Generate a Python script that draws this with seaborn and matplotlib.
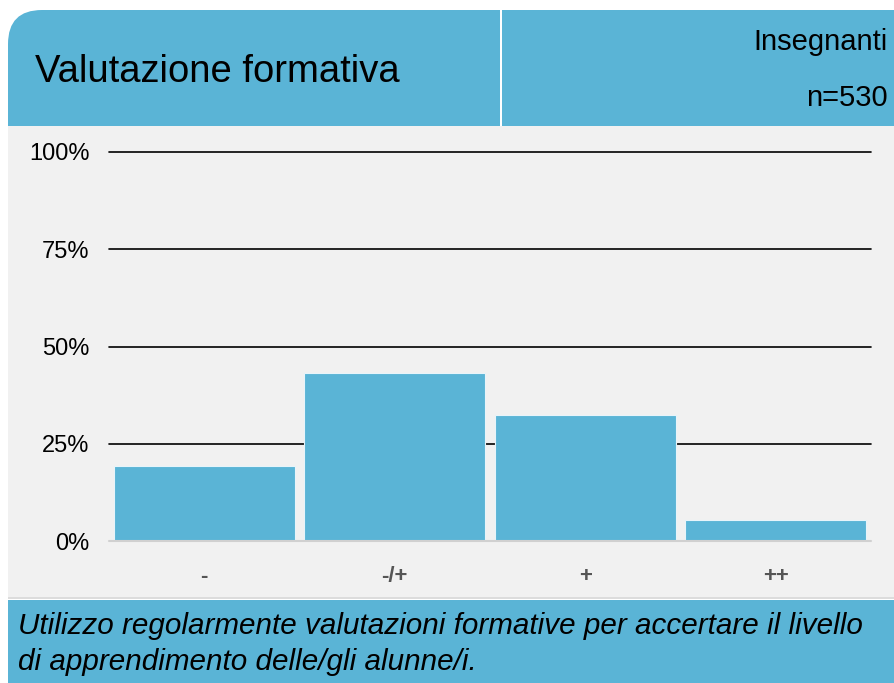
import matplotlib
matplotlib.use('Agg')
import matplotlib.pyplot as plt
import seaborn as sns
import pandas as pd
from matplotlib.patches import Rectangle, FancyBboxPatch
from matplotlib.transforms import IdentityTransform

# data
categories = ['-', '-/+', '+', '++']
percentages = [19.3, 43.2, 32.4, 5.4]
y_ticks = [0, 25, 50, 75, 100]
y_tick_labels = ['0%', '25%', '50%', '75%', '100%']
title = "Valutazione formativa"
group_label = "Insegnanti"
n_label = "n=530"
question = ("Utilizzo regolarmente valutazioni formative per accertare il livello\n"
            "di apprendimento delle/gli alunne/i.")

df = pd.DataFrame({'cat': categories, 'pct': percentages})

blue = '#5ab4d6'
W, H = 894, 683

sns.set_style("white")
plt.rcParams['font.family'] = ['Liberation Sans', 'DejaVu Sans']
plt.rcParams['text.color'] = 'black'
plt.rcParams['ytick.color'] = 'black'

fig = plt.figure(figsize=(W / 100, H / 100), dpi=100)
px = IdentityTransform()

def r(x0, y0, x1, y1, color, z=0):
    # rectangle in image pixel coords (top-left origin)
    fig.patches.append(Rectangle((x0, H - y1), x1 - x0, y1 - y0, transform=px,
                                 facecolor=color, edgecolor='none', zorder=z))

# gray panel
r(8, 126, W, 599, '#f1f1f1')
r(8, 597, W, 599, '#dcdcdc')
# header with rounded top-left corner
fig.patches.append(FancyBboxPatch((8, H - 126), W - 8, 116, transform=px,
                                  boxstyle='round,pad=0,rounding_size=34',
                                  facecolor=blue, edgecolor='none', zorder=0))
r(60, 10, W, 126, blue)
r(8, 60, W, 126, blue)
r(500, 10, 501.5, 126, 'white', 0)
# footer
r(8, 600, W, H, blue)

fig.text(35 / W, 1 - 72 / H, title, fontsize=27.5, va='center', ha='left')
fig.text(888 / W, 1 - 42 / H, group_label, fontsize=21, va='center', ha='right')
fig.text(888 / W, 1 - 98 / H, n_label, fontsize=21, va='center', ha='right')
fig.text(18 / W, 1 - 644 / H, question, fontsize=21.3, style='italic',
         va='center', ha='left', linespacing=1.4)

# bar chart
ax = fig.add_axes([109 / W, 1 - 541 / H, 762 / W, 389 / H], zorder=5)
ax.patch.set_alpha(0)
sns.barplot(data=df, x='cat', y='pct', color=blue, width=0.95, saturation=1,
            edgecolor='#e8f4fa', linewidth=0.8, ax=ax, zorder=3)
ax.set_xlim(-0.5, 3.5)
ax.set_ylim(0, 100)
for yv in y_ticks[1:]:
    ax.axhline(yv, color='black', lw=1.2, zorder=1, clip_on=False)
ax.axhline(0, color='#d0d0d0', lw=1.5, zorder=4, clip_on=False)
sns.despine(ax=ax, left=True, bottom=True)
ax.set_yticks(y_ticks)
ax.set_yticklabels(y_tick_labels, fontsize=17)
ax.tick_params(axis='y', length=0, pad=14)
ax.tick_params(axis='x', length=0, pad=18)
ax.set_xticks(range(len(categories)))
ax.set_xticklabels(categories, fontsize=16, fontweight='bold', color='#555555')
ax.set_xlabel('')
ax.set_ylabel('')

fig.savefig('out.png', dpi=100)
